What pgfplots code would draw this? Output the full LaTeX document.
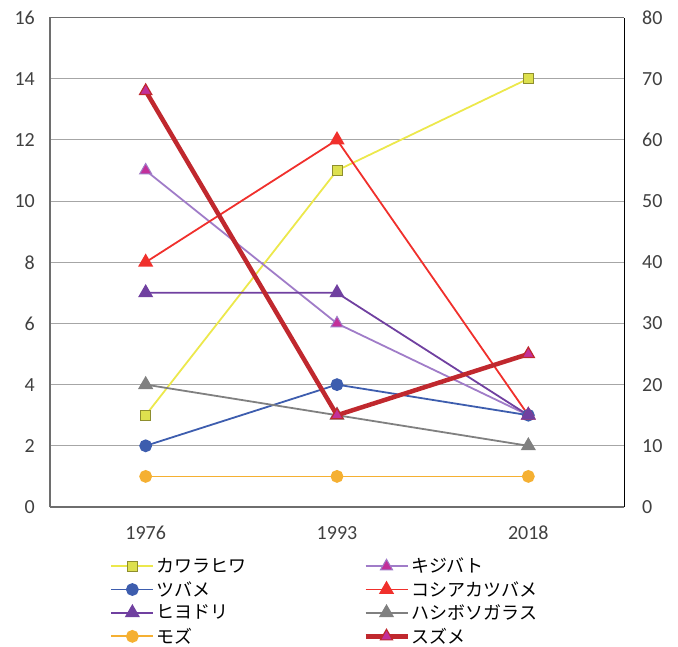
\documentclass[border=0pt]{standalone}
\usepackage{pgfplots}
\pgfplotsset{compat=1.18}
\usepackage{fontspec}
\setmainfont{Carlito}
\newfontfamily\jp{Noto Sans CJK JP}
\definecolor{cKawa}{HTML}{ECE84C}
\definecolor{cKawaF}{HTML}{DDE04E}
\definecolor{cKawaD}{HTML}{8E8E2E}
\definecolor{cKiji}{HTML}{A07CC8}
\definecolor{cMag}{HTML}{C2309A}
\definecolor{cTsu}{HTML}{3D5DAE}
\definecolor{cKosh}{HTML}{F0302C}
\definecolor{cHiyo}{HTML}{7040A0}
\definecolor{cHashi}{HTML}{808080}
\definecolor{cMozu}{HTML}{F5B032}
\definecolor{cSuz}{HTML}{C0282E}
\definecolor{cGrid}{HTML}{A6A6A6}
\definecolor{cAx}{HTML}{6E6E6E}
\definecolor{cTxt}{HTML}{404040}
\begin{document}
\begin{tikzpicture}
\pgfplotsset{
  base/.style={
    at={(0,0)}, anchor=south west,
    scale only axis, width=574pt, height=489.5pt,
    xmin=0.5, xmax=3.5,
    major tick length=0pt,
    tick label style={font=\fontsize{20}{22}\selectfont, text=cTxt, inner sep=0pt},
    /pgf/number format/assume math mode=true,
  },
}
\begin{axis}[base,
  ymin=0, ymax=16, ytick distance=2,
  xtick={1,2,3}, xticklabels={1976,1993,2018},
  xticklabel style={yshift=-19pt},
  yticklabel style={xshift=-15pt},
  axis x line*=bottom, axis y line*=left,
  axis line style={cAx, line width=1.3pt},
  every outer x axis line/.append style={-}, every outer y axis line/.append style={-},
  ymajorgrids, grid style={cGrid, line width=1pt},
  legend columns=2,
  legend cell align=left,
  legend style={draw=none, fill=none, font=\fontsize{18}{20}\jp, text=black,
    at={(0.105,-0.100)}, anchor=north west, inner sep=0pt, row sep=3pt,
    nodes={inner sep=2pt},
    /tikz/every even column/.append style={column sep=115pt}},
  legend image code/.code={\draw[mark repeat=2,mark phase=2] plot coordinates {(0pt,0pt)(21pt,0pt)(42pt,0pt)};},
]
\draw[cAx, line width=1.3pt] (rel axis cs:0,1) -- (rel axis cs:1,1);
\addplot[cKawa, line width=1.8pt, mark=square*, mark size=5pt, mark options={fill=cKawaF, draw=cKawaD, line width=1pt}]
  coordinates {(1,3) (2,11) (3,14)};
\addlegendentry{カワラヒワ}
\addplot[cKiji, line width=1.8pt, mark=triangle*, mark size=7pt, mark options={fill=cMag, draw=cKiji, line width=1pt}]
  coordinates {(1,11) (2,6) (3,3)};
\addlegendentry{キジバト}
\addplot[cTsu, line width=1.8pt, mark=*, mark size=5.5pt, mark options={fill=cTsu, draw=cTsu}]
  coordinates {(1,2) (2,4) (3,3)};
\addlegendentry{ツバメ}
\addplot[cKosh, line width=1.8pt, mark=triangle*, mark size=7pt, mark options={fill=cKosh, draw=cKosh}]
  coordinates {(1,8) (2,12) (3,3)};
\addlegendentry{コシアカツバメ}
\addplot[cHiyo, line width=1.8pt, mark=triangle*, mark size=7pt, mark options={fill=cHiyo, draw=cHiyo}]
  coordinates {(1,7) (2,7) (3,3)};
\addlegendentry{ヒヨドリ}
\addplot[cHashi, line width=1.8pt, mark=triangle*, mark size=7pt, mark options={fill=cHashi, draw=cHashi}]
  coordinates {(1,4) (2,3) (3,2)};
\addlegendentry{ハシボソガラス}
\addplot[cMozu, line width=1.8pt, mark=*, mark size=5.5pt, mark options={fill=cMozu, draw=cMozu}]
  coordinates {(1,1) (2,1) (3,1)};
\addlegendentry{モズ}
\addlegendimage{cSuz, line width=4.5pt, mark=triangle*, mark size=7pt, mark options={fill=cMag, draw=cSuz, line width=1.2pt}}
\addlegendentry{スズメ}
\end{axis}
\begin{axis}[base,
  ymin=0, ymax=80, ytick distance=10,
  axis x line=none, axis y line*=right,
  axis line style={black, line width=0.9pt},
  every outer y axis line/.append style={-},
  yticklabel style={xshift=18pt},
]
\addplot[cSuz, line width=4.5pt, mark=triangle*, mark size=7pt, mark options={fill=cMag, draw=cSuz, line width=1.2pt}]
  coordinates {(1,68) (2,15) (3,25)};
\end{axis}
\pgfresetboundingbox
\path (-50pt,-139pt) rectangle (628pt,507pt);
\end{tikzpicture}
\end{document}
